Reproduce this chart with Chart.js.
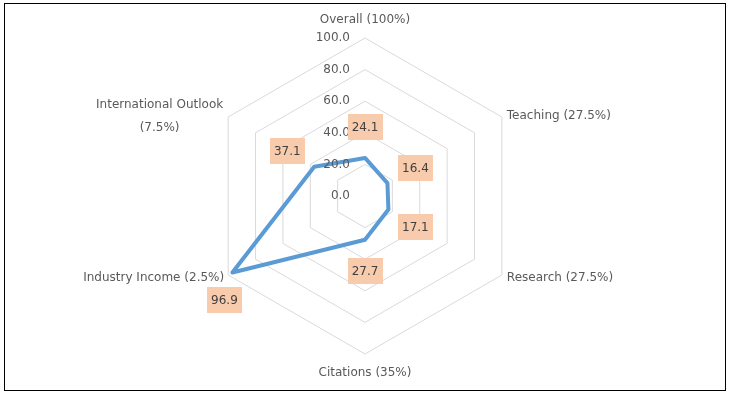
<!DOCTYPE html>
<html>
<head>
<meta charset="utf-8">
<script src="https://cdn.jsdelivr.net/npm/chart.js@4"></script>
<style>
  html, body { margin: 0; padding: 0; background: #fff; }
  canvas { display: block; }
</style>
</head>
<body>
<canvas id="radar" width="730" height="395"></canvas>
<script>
// data
const categories = [
    'Overall (100%)',
    'Teaching (27.5%)',
    'Research (27.5%)',
    'Citations (35%)',
    'Industry Income (2.5%)',
    ['International Outlook', '(7.5%)']
];
const scores = [24.1, 16.4, 17.1, 27.7, 96.9, 37.1];
const tickValues = [0, 20, 40, 60, 80, 100];

const FONT = '12px "DejaVu Sans", sans-serif';
const TEXT = '#595959';

// where each axis label sits relative to its outer vertex
const axisLabelStyle = [
    { dx: 0, dy: -18, align: 'center' },
    { dx: 5, dy: -1, align: 'left' },
    { dx: 5, dy: 3, align: 'left' },
    { dx: 0, dy: 19, align: 'center' },
    { dx: -4, dy: 3, align: 'right' },
    { dx: -5, dy: -12, align: 'right', lineHeight: 23 }
];
// data label box offsets from the point
const boxOffset = [[0, -31], [28, -15], [27, 17], [0, 31], [-8, 27], [-27, -16]];

const labelsPlugin = {
    id: 'excelLabels',
    afterDraw(chart) {
        const ctx = chart.ctx;
        const scale = chart.scales.r;
        ctx.save();
        ctx.font = FONT;
        ctx.textBaseline = 'middle';

        // tick labels, right aligned left of the vertical axis
        ctx.fillStyle = TEXT;
        ctx.textAlign = 'right';
        tickValues.forEach(v => {
            const d = scale.getDistanceFromCenterForValue(v);
            ctx.fillText(v.toFixed(1), scale.xCenter - 15, scale.yCenter - d);
        });

        // axis (category) labels
        categories.forEach((lab, i) => {
            const p = scale.getPointPosition(i, scale.drawingArea);
            const st = axisLabelStyle[i];
            const lines = Array.isArray(lab) ? lab : [lab];
            const lh = st.lineHeight || 16;
            let x = p.x + st.dx;
            let y = p.y + st.dy;
            if (lines.length > 1) {
                // centred block, anchored by its widest line
                const w = Math.max(...lines.map(l => ctx.measureText(l).width));
                ctx.textAlign = 'center';
                if (st.align === 'right') x -= w / 2;
                if (st.align === 'left') x += w / 2;
            } else {
                ctx.textAlign = st.align;
            }
            lines.forEach((l, k) => ctx.fillText(l, x, y + k * lh));
        });

        // data labels in peach boxes
        const meta = chart.getDatasetMeta(0);
        meta.data.forEach((pt, i) => {
            const txt = scores[i].toFixed(1);
            const cx = pt.x + boxOffset[i][0];
            const cy = pt.y + boxOffset[i][1];
            const w = Math.round(ctx.measureText(txt).width) + 8;
            const h = 26;
            ctx.fillStyle = '#f8cbad';
            ctx.fillRect(Math.round(cx - w / 2), Math.round(cy - h / 2), w, h);
            ctx.fillStyle = '#404040';
            ctx.textAlign = 'center';
            ctx.fillText(txt, cx, cy + 1);
        });

        // chart frame
        ctx.strokeStyle = '#000';
        ctx.lineWidth = 1;
        ctx.strokeRect(4.5, 3.5, 721, 387);
        ctx.restore();
    }
};

new Chart(document.getElementById('radar'), {
    type: 'radar',
    data: {
        labels: categories,
        datasets: [{
            data: scores,
            borderColor: '#5b9bd5',
            borderWidth: 4,
            borderJoinStyle: 'round',
            fill: false,
            pointRadius: 0,
            pointHoverRadius: 0,
            tension: 0
        }]
    },
    options: {
        responsive: false,
        animation: false,
        devicePixelRatio: 1,
        layout: { padding: { top: 38, bottom: 41, left: 0, right: 0 } },
        plugins: {
            legend: { display: false },
            tooltip: { enabled: false }
        },
        scales: {
            r: {
                min: 0,
                max: 100,
                ticks: { display: false, stepSize: 20 },
                grid: { color: '#d9d9d9', lineWidth: 1 },
                angleLines: { display: false },
                pointLabels: { display: false }
            }
        }
    },
    plugins: [labelsPlugin]
});
</script>
</body>
</html>
